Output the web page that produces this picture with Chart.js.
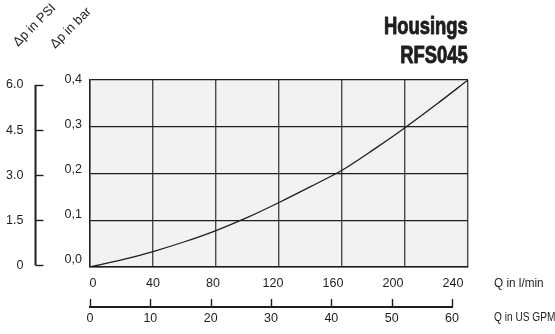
<!DOCTYPE html>
<html><head><meta charset="utf-8">
<script src="https://cdn.jsdelivr.net/npm/chart.js@4.4.1/dist/chart.umd.min.js"></script>
<style>html,body{margin:0;padding:0;background:#fff}canvas{display:block}</style>
</head><body>
<canvas id="c" width="555" height="334"></canvas>
<script>
// ---- data ----
const flowLpm = [0, 20, 40, 60, 80, 100, 120, 140, 160, 180, 200, 220, 240];
const dpBar   = [0, 0.015, 0.033, 0.054, 0.078, 0.106, 0.138, 0.172, 0.207, 0.251, 0.298, 0.348, 0.4];
const lpmTicks = [0, 40, 80, 120, 160, 200, 240];
const gpmTicks = [0, 10, 20, 30, 40, 50, 60];
const barTicks = [0, 0.1, 0.2, 0.3, 0.4];
const psiTicks = [0, 1.5, 3.0, 4.5, 6.0];
const titleLines = ['Housings', 'RFS045'];
const psiTitle = '\u0394p in PSI';
const barTitle = '\u0394p in bar';
const lpmTitle = 'Q in l/min';
const gpmTitle = 'Q in US GPM';

const FONT = "'Liberation Sans', Arial, sans-serif";
const INK = '#1e1e1e';
Chart.defaults.font.family = FONT;
Chart.defaults.font.size = 12;
Chart.defaults.color = INK;

const setTicks = vals => s => { s.ticks = vals.map(v => ({ value: v })); };
const fixW = w => s => { s.width = w; };
const fixH = h => s => { s.height = h; };
const hidden = { display: false, drawTicks: false };

// draw text horizontally condensed (the reference uses a condensed face)
function condensed(ctx, text, x, y, sx, heavy) {
  ctx.save();
  ctx.translate(x, y);
  ctx.scale(sx, 1);
  if (heavy) { ctx.lineWidth = heavy; ctx.strokeStyle = ctx.fillStyle; ctx.lineJoin = 'round'; ctx.strokeText(text, 0, 0); }
  ctx.fillText(text, 0, 0);
  ctx.restore();
}

const decor = {
  id: 'decor',
  beforeDraw(chart) {
    const { ctx, chartArea: a } = chart;
    ctx.save();
    ctx.fillStyle = '#f2f2f2';
    ctx.fillRect(a.left, a.top, a.right - a.left, a.bottom - a.top);
    ctx.restore();
  },
  afterDraw(chart) {
    const { ctx, scales } = chart;
    ctx.save();
    ctx.strokeStyle = INK;
    // PSI bracket axis
    const ps = scales.psi;
    const px = ps.right - 4.5;
    ctx.lineWidth = 2;
    ctx.beginPath();
    ctx.moveTo(px, ps.getPixelForValue(psiTicks[0]));
    ctx.lineTo(px, ps.getPixelForValue(psiTicks[psiTicks.length - 1]));
    ctx.stroke();
    ctx.lineWidth = 1.4;
    psiTicks.forEach(v => {
      const y = Math.round(ps.getPixelForValue(v)) + 0.5;
      ctx.beginPath(); ctx.moveTo(px, y); ctx.lineTo(px + 8, y); ctx.stroke();
    });
    // GPM axis line
    const gs = scales.xG;
    const gy = gs.top + 10;
    ctx.lineWidth = 2;
    ctx.beginPath();
    ctx.moveTo(gs.getPixelForValue(gpmTicks[0]) - 1, gy);
    ctx.lineTo(gs.getPixelForValue(gpmTicks[gpmTicks.length - 1]) + 1, gy);
    ctx.stroke();
    ctx.lineWidth = 1.4;
    gpmTicks.forEach(v => {
      const x = Math.round(gs.getPixelForValue(v)) + 0.5;
      ctx.beginPath(); ctx.moveTo(x, gy); ctx.lineTo(x, gy - 8); ctx.stroke();
    });
    // texts
    ctx.fillStyle = INK;
    ctx.font = "bold 23px " + FONT;
    ctx.textAlign = 'right';
    ctx.textBaseline = 'alphabetic';
    const a = chart.chartArea;
    condensed(ctx, titleLines[0], a.right - 0.3, 33.5, 0.8, 0.9);
    condensed(ctx, titleLines[1], a.right - 0.3, 63.3, 0.8, 0.9);
    ctx.font = '12.5px ' + FONT;
    ctx.textAlign = 'left';
    ctx.textBaseline = 'middle';
    condensed(ctx, lpmTitle, 494, 283.8, 0.94);
    condensed(ctx, gpmTitle, 494, 318, 0.81);
    ctx.font = '13px ' + FONT;
    ctx.textBaseline = 'alphabetic';
    [[psiTitle, 18, 47], [barTitle, 55, 49]].forEach(([t, x, y]) => {
      ctx.save();
      ctx.translate(x, y);
      ctx.rotate(-Math.PI / 4);
      ctx.fillText(t, 0, 0);
      ctx.restore();
    });
    ctx.restore();
  }
};

new Chart(document.getElementById('c'), {
  type: 'line',
  data: {
    datasets: [{
      data: flowLpm.map((x, i) => ({ x, y: dpBar[i] })),
      xAxisID: 'x', yAxisID: 'y',
      borderColor: INK, borderWidth: 1.3,
      pointRadius: 0, fill: false,
      cubicInterpolationMode: 'monotone'
    }]
  },
  options: {
    responsive: false,
    animation: false,
    layout: { padding: { top: 80, right: 87, left: 0, bottom: 0 } },
    plugins: { legend: { display: false }, tooltip: { enabled: false } },
    scales: {
      x: {
        type: 'linear', position: 'bottom', weight: 0, min: 0, max: 240,
        afterBuildTicks: setTicks(lpmTicks), afterFit: fixH(0),
        ticks: { display: false },
        grid: { color: '#4a4a4a', lineWidth: 1.4, drawTicks: false },
        border: { display: true, color: INK, width: 1.4 }
      },
      xL: {
        type: 'linear', position: 'bottom', weight: 1, min: -2, max: 250,
        afterBuildTicks: setTicks(lpmTicks), afterFit: fixH(30),
        ticks: { padding: 9.5, maxRotation: 0, autoSkip: false, font: { size: 12.5 } },
        grid: hidden, border: { display: false }
      },
      xG: {
        type: 'linear', position: 'bottom', weight: 2, min: 0, max: 62.65,
        afterBuildTicks: setTicks(gpmTicks), afterFit: fixH(37),
        ticks: { padding: 13.8, maxRotation: 0, autoSkip: false, font: { size: 12.5 } },
        grid: hidden, border: { display: false }
      },
      y: {
        type: 'linear', position: 'left', weight: 0, min: 0, max: 0.4,
        afterBuildTicks: setTicks(barTicks), afterFit: fixW(0),
        ticks: { display: false },
        grid: { color: '#1e1e1e', lineWidth: 1.2, drawTicks: false },
        border: { display: true, color: INK, width: 1.4 }
      },
      yL: {
        type: 'linear', position: 'left', weight: 1, min: -0.01556, max: 0.4,
        afterBuildTicks: setTicks(barTicks), afterFit: fixW(50),
        ticks: { padding: 8, autoSkip: false, font: { size: 12.5 }, callback: v => v.toFixed(1).replace('.', ',') },
        grid: hidden, border: { display: false }
      },
      psi: {
        type: 'linear', position: 'left', weight: 2, min: -0.053, max: 6.164,
        afterBuildTicks: setTicks(psiTicks), afterFit: fixW(40),
        ticks: { padding: 16.5, autoSkip: false, font: { size: 12.5 }, callback: v => v === 0 ? '0' : v.toFixed(1) },
        grid: hidden, border: { display: false }
      }
    }
  },
  plugins: [decor]
});
</script>
</body></html>
